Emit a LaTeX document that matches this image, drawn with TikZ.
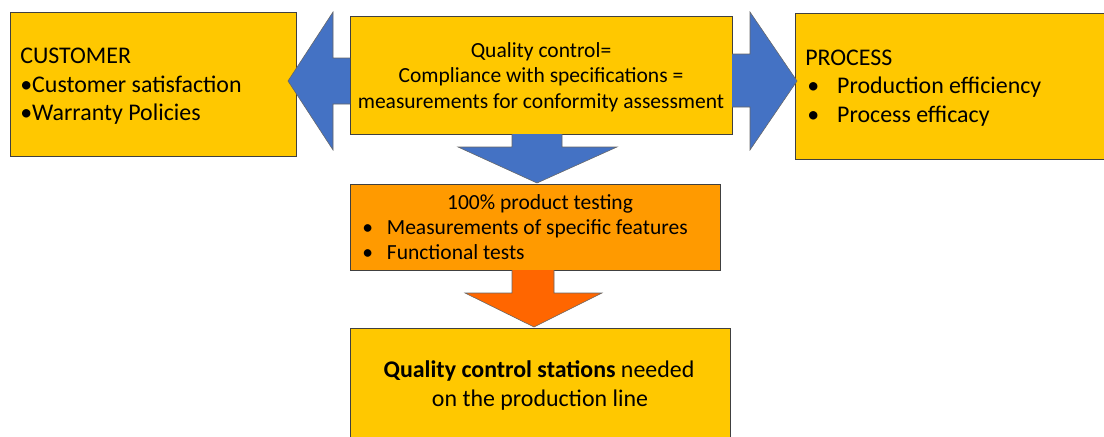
\documentclass[tikz,border=0pt]{standalone}
\usepackage{fontspec}
\setmainfont{Carlito}

\definecolor{gold}{HTML}{FFC800}
\definecolor{amber}{HTML}{FF9A00}
\definecolor{flame}{HTML}{FF6600}
\definecolor{steel}{HTML}{4472C4}

\tikzset{
    panel/.style={draw=black!75, line width=0.5pt},
    blockarrow/.style={draw=black!60, line width=0.4pt},
    big/.style={font=\fontsize{17}{20}\selectfont, inner sep=0pt},
    small/.style={font=\fontsize{15.3}{18}\selectfont, inner sep=0pt}
}
\newcommand{\bul}[1]{\makebox[#1][l]{•}}

\begin{document}
\begin{tikzpicture}[x=0.025cm, y=-0.025cm]

    % 0. Khung ảnh
    \useasboundingbox (0,0) rectangle (1104,436);

    % 1. Các hộp
    \draw[panel, fill=gold] (10,12) rectangle (296,156);
    \draw[panel, fill=gold] (350,16) rectangle (732,134);
    \draw[panel, fill=gold] (795,13) rectangle (1110,159);
    \draw[panel, fill=amber] (350,184) rectangle (720,270);
    \draw[panel, fill=gold] (350,328) rectangle (730,450);

    % 2. Mũi tên khối
    \draw[blockarrow, fill=steel] (350,58) -- (333,58) -- (333,12) -- (288,81)
        -- (333,150) -- (333,104) -- (350,104);
    \draw[blockarrow, fill=steel] (732,54) -- (750,54) -- (750,12) -- (797,81)
        -- (750,150) -- (750,107) -- (732,107);
    \draw[blockarrow, fill=steel] (512,134) -- (512,147) -- (458,147) -- (537,183)
        -- (617,147) -- (562,147) -- (562,134);
    \draw[blockarrow, fill=flame] (512,270) -- (512,293) -- (465,293) -- (534,327)
        -- (602,293) -- (554,293) -- (554,270);

    % 3. Chữ trong hộp bên trái
    \node[big, anchor=base west] (custHead) at (20,63) {CUSTOMER};
    \node[big, anchor=base west] (custA) at (20,92) {\bul{8.5pt}Customer satisfaction};
    \node[big, anchor=base west] (custB) at (20,120) {\bul{8.5pt}Warranty Policies};

    % 4. Chữ trong hộp giữa
    \node[small, anchor=base] (qcA) at (541,57) {Quality control=};
    \node[small, anchor=base] (qcB) at (541,82) {Compliance with specifications =};
    \node[small, anchor=base] (qcC) at (541,108) {measurements for conformity assessment};

    % 5. Chữ trong hộp bên phải
    \node[big, anchor=base west] (procHead) at (805,65) {PROCESS};
    \node[big, anchor=base west] (procA) at (807,93) {\bul{21.3pt}Production efficiency};
    \node[big, anchor=base west] (procB) at (807,122) {\bul{21.3pt}Process efficacy};

    % 6. Chữ trong hộp kiểm tra
    \node[small, anchor=base] (testHead) at (540,209) {100\% product testing};
    \node[small, anchor=base west] (testA) at (362,234) {\bul{17.5pt}Measurements of specific features};
    \node[small, anchor=base west] (testB) at (362,259) {\bul{17.5pt}Functional tests};

    % 7. Chữ trong hộp dưới cùng
    \node[big, anchor=base] (stationA) at (539,377) {\textbf{Quality control stations} needed};
    \node[big, anchor=base] (stationB) at (540,406) {on the production line};

\end{tikzpicture}
\end{document}
